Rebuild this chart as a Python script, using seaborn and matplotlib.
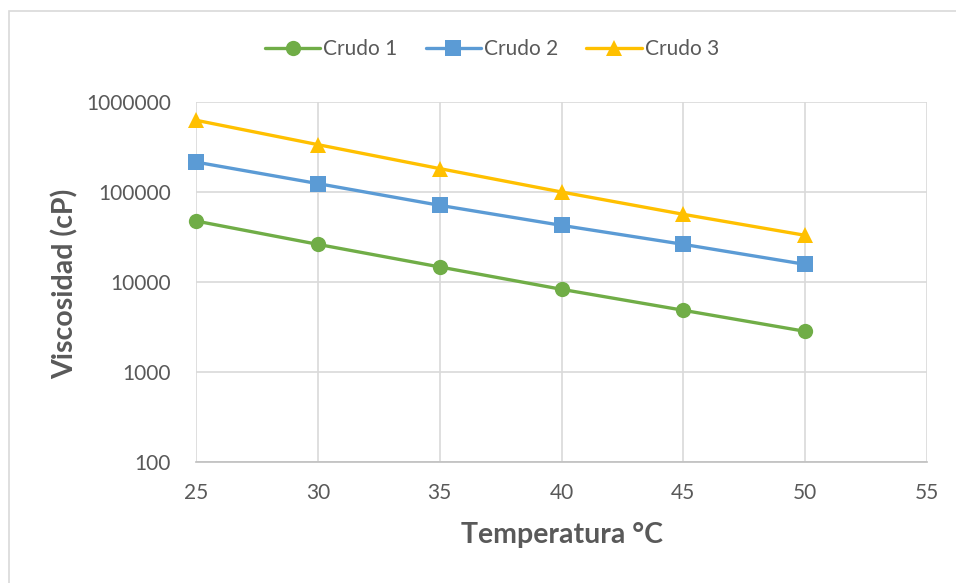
import numpy as np
import pandas as pd
import matplotlib
matplotlib.use("Agg")
import matplotlib.pyplot as plt
from matplotlib.ticker import FixedLocator, FuncFormatter, NullLocator
from matplotlib.patches import Rectangle
import seaborn as sns

temperatura = [25, 30, 35, 40, 45, 50]
crudo1 = [47600, 26200, 14700, 8300, 4850, 2830]
crudo2 = [215000, 124000, 71100, 42600, 26200, 15700]
crudo3 = [627000, 336000, 182000, 100000, 56500, 33000]
series_names = ["Crudo 1", "Crudo 2", "Crudo 3"]
x_ticks = [25, 30, 35, 40, 45, 50, 55]
y_ticks = [100, 1000, 10000, 100000, 1000000]

df = pd.DataFrame({
    "Temperatura": temperatura * 3,
    "Viscosidad": crudo1 + crudo2 + crudo3,
    "Serie": [series_names[0]] * 6 + [series_names[1]] * 6 + [series_names[2]] * 6,
})

sns.set_theme(style="white")
plt.rcParams['font.family'] = ['Lato', 'DejaVu Sans']

fig = plt.figure(figsize=(9.56, 5.83), dpi=100)
W, H = 956, 583
ax = fig.add_axes([196 / W, 1 - 462 / H, (927 - 196) / W, (462 - 102) / H])

palette = {"Crudo 1": "#70AD47", "Crudo 2": "#5B9BD5", "Crudo 3": "#FFC000"}
markers = {"Crudo 1": "o", "Crudo 2": "s", "Crudo 3": "^"}
sns.lineplot(data=df, x="Temperatura", y="Viscosidad", hue="Serie", style="Serie",
             palette=palette, markers=markers, dashes=False, linewidth=2.4,
             markersize=11, markeredgewidth=0, ax=ax, legend=True, clip_on=False)

ax.set_yscale("log")
ax.set_xlim(25, 55)
ax.set_ylim(100, 1000000)
ax.xaxis.set_major_locator(FixedLocator(x_ticks))
ax.yaxis.set_major_locator(FixedLocator(y_ticks))
ax.yaxis.set_minor_locator(NullLocator())
ax.yaxis.set_major_formatter(FuncFormatter(lambda v, p: f"{int(round(v))}"))
ax.grid(True, color="#d9d9d9", linewidth=1.2)
ax.set_axisbelow(True)
for s in ["top", "right", "left"]:
    ax.spines[s].set_visible(False)
ax.spines["bottom"].set_color("#bfbfbf")
ax.spines["bottom"].set_linewidth(1.2)
ax.tick_params(axis="both", length=0, labelsize=15, colors="#595959")
ax.tick_params(axis="y", pad=18)
ax.tick_params(axis="x", pad=15)

ax.set_xlabel("Temperatura °C", fontsize=20.5, fontweight="bold", color="#595959")
ax.set_ylabel("Viscosidad (cP)", fontsize=20.5, fontweight="bold", color="#595959")
ax.xaxis.set_label_coords((562 - 196) / 731, (462 - 522) / 360)
ax.yaxis.set_label_coords((79 - 196) / 731, (462 - 284) / 360)

handles, labels = ax.get_legend_handles_labels()
leg = ax.legend(handles, labels, loc="center", ncol=3, frameon=False,
                bbox_to_anchor=(492 / W, 1 - 49 / H), bbox_transform=fig.transFigure,
                fontsize=15, handlelength=2.65, columnspacing=1.35, handletextpad=0.15)
for t in leg.get_texts():
    t.set_color("#595959")

fig.patches.append(Rectangle((9 / W, -0.1), 1.2, 1 - 11 / H + 0.1, transform=fig.transFigure,
                             fill=False, edgecolor="#d9d9d9", linewidth=1.2))

fig.savefig("out.png", dpi=100)
